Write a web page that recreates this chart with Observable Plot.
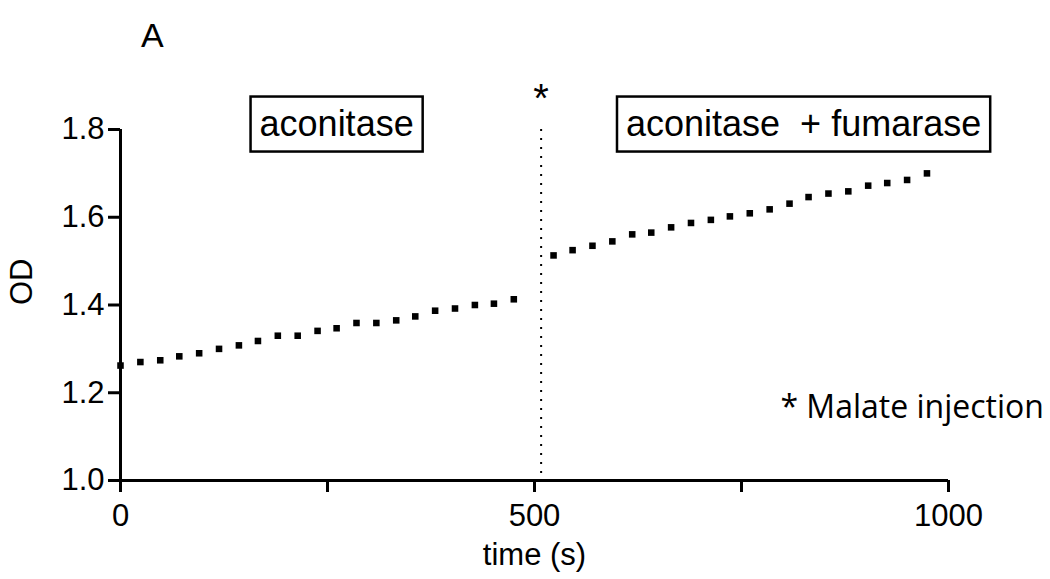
<!DOCTYPE html>
<html><head><meta charset="utf-8">
<script src="https://cdn.jsdelivr.net/npm/d3@7"></script>
<script src="https://cdn.jsdelivr.net/npm/@observablehq/plot@0.6"></script>
<style>
html,body{margin:0;padding:0;background:#fff;}
svg text{white-space:pre;}
</style></head><body><div id="chart"></div>
<script>
// Data
const timeBefore = [0, 24, 48, 71, 95, 119, 143, 166, 190, 214, 238, 261, 285, 309, 333, 356, 380, 404, 428, 451, 475];
const odBefore   = [1.262, 1.270, 1.274, 1.283, 1.290, 1.300, 1.308, 1.318, 1.330, 1.330, 1.341, 1.347, 1.359, 1.359, 1.365, 1.374, 1.387, 1.392, 1.400, 1.403, 1.413];
const timeAfter  = [523, 546, 570, 594, 618, 641, 665, 689, 713, 736, 760, 784, 808, 831, 855, 879, 903, 926, 950, 974];
const odAfter    = [1.513, 1.525, 1.535, 1.545, 1.561, 1.565, 1.577, 1.587, 1.594, 1.602, 1.609, 1.618, 1.631, 1.646, 1.654, 1.659, 1.672, 1.678, 1.685, 1.700];
const xTicks = [0, 250, 500, 750, 1000];
const xTickLabels = [0, 500, 1000];
const yTicks = [1.0, 1.2, 1.4, 1.6, 1.8];
const injectionTime = 508;
const boxLabels = ["aconitase", "aconitase  + fumarase"];
const boxLabelTimes = [261, 825];
const boxLabelOD = 1.8125;
const noteText = "* Malate injection";
const noteTime = 797;
const noteOD = 1.166;
const panelLetter = "A";

const points = [
  ...timeBefore.map((t, i) => ({t, od: odBefore[i]})),
  ...timeAfter.map((t, i) => ({t, od: odAfter[i]}))
];
const boxes = boxLabels.map((label, i) => ({label, t: boxLabelTimes[i], od: boxLabelOD}));

const plot = Plot.plot({
  width: 1050, height: 579,
  marginLeft: 120, marginRight: 102, marginTop: 129, marginBottom: 99,
  style: {fontFamily: "'Liberation Sans', Arial, sans-serif", fontSize: "31px", color: "#000", background: "#fff", overflow: "visible"},
  x: {domain: [0, 1000]},
  y: {domain: [1.0, 1.8]},
  marks: [
    Plot.axisY(yTicks, {tickFormat: d3.format(".1f"), tickSize: 12, tickPadding: 4, strokeWidth: 3, fontSize: 31, label: null}),
    Plot.axisX(xTicks, {tickFormat: d => xTickLabels.includes(d) ? String(d) : "", tickSize: 12, tickPadding: 11, strokeWidth: 3, fontSize: 31, label: null}),
    Plot.ruleX([0], {strokeWidth: 3}),
    Plot.ruleY([1.0], {strokeWidth: 3}),
    Plot.ruleX([injectionTime], {strokeWidth: 2, strokeDasharray: "2,7"}),
    Plot.dot(points, {x: "t", y: "od", symbol: "square", r: 3.7, fill: "#000", stroke: null}),
    Plot.text(boxes, {x: "t", y: "od", text: "label", fontSize: 36, className: "boxed"}),
    Plot.text(["*"], {x: () => injectionTime, y: () => 1.8, dy: -30, fontSize: 40}),
    Plot.text([noteText], {x: () => noteTime, y: () => noteOD, textAnchor: "start", fontSize: 32, fontFamily: "'Open Sans', sans-serif"}),
    Plot.text(["OD"], {frameAnchor: "left", rotate: -90, dx: -98.5, fontSize: 31}),
    Plot.text(["time (s)"], {frameAnchor: "bottom", dy: 84, fontSize: 31}),
    Plot.text([panelLetter], {frameAnchor: "top-left", dx: 20.5, dy: -107, fontSize: 34})
  ]
});
document.getElementById("chart").appendChild(plot);

// draw frames around the boxed labels
plot.querySelectorAll("g.boxed text").forEach(t => {
  const bb = t.getBBox();
  const r = document.createElementNS("http://www.w3.org/2000/svg", "rect");
  r.setAttribute("x", bb.x - 9);
  r.setAttribute("y", bb.y - 6);
  r.setAttribute("width", bb.width + 18);
  r.setAttribute("height", bb.height + 14);
  r.setAttribute("fill", "none");
  r.setAttribute("stroke", "#000");
  r.setAttribute("stroke-width", 2.5);
  const tr = t.getAttribute("transform");
  if (tr) r.setAttribute("transform", tr);
  t.parentNode.insertBefore(r, t);
});
</script></body></html>
